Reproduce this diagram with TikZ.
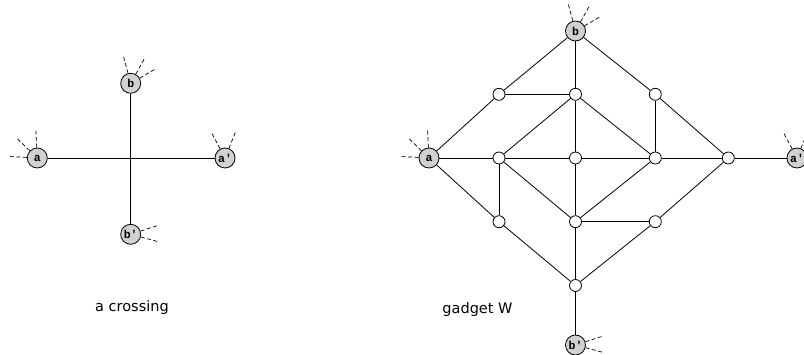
\documentclass[tikz,border=0pt]{standalone}
\usepackage{fontspec}
\newfontfamily\capfont{DejaVu Sans}
\newfontfamily\labfont{Liberation Mono}
\begin{document}
\begin{tikzpicture}[x=1pt,y=-1pt,
  term/.style={circle,draw,line width=0.8pt,fill=black!18,minimum size=20pt,inner sep=0pt,font=\labfont\bfseries\fontsize{11.5}{11.5}\selectfont},
  inner/.style={circle,draw,line width=0.8pt,fill=white,minimum size=12pt,inner sep=0pt},
  edge/.style={line width=0.8pt},
  stub/.style={line width=0.7pt,dash pattern=on 4pt off 2.5pt},
  captxt/.style={font=\capfont\fontsize{14.5}{16}\selectfont,inner sep=0pt}]
\useasboundingbox (0,0) rectangle (804,355);
% ---------- crossing ----------
\node[term] (cb) at (130.7,83.3) {b};
\node[term] (ca) at (37.3,158) {a};
\node[term] (cap) at (225,158) {a'};
\node[term] (cbp) at (130.7,234.3) {b'};
\draw[edge] (ca) -- (cap);
\draw[edge] (cb) -- (cbp);
\node[captxt] (lc) at (132,307.7) {a crossing};
% ---------- gadget ----------
\node[term] (gb) at (575.5,31) {b};
\node[term] (ga) at (429,158) {a};
\node[term] (gap) at (797,158) {a'};
\node[term] (gbp) at (575.5,345) {b'};
\node[inner] (tl) at (499,94.3) {};
\node[inner] (tm) at (575.5,94.3) {};
\node[inner] (tr) at (655.3,94.3) {};
\node[inner] (ml) at (499,158) {};
\node[inner] (mm) at (575.5,158) {};
\node[inner] (mr) at (655.3,158) {};
\node[inner] (me) at (728.3,158) {};
\node[inner] (bl) at (499,221.7) {};
\node[inner] (bm) at (575.5,221.7) {};
\node[inner] (br) at (655.3,221.7) {};
\node[inner] (bo) at (575.5,285.5) {};
\draw[edge] (gb) -- (tl);
\draw[edge] (gb) -- (tm);
\draw[edge] (gb) -- (tr);
\draw[edge] (tl) -- (tm);
\draw[edge] (tl) -- (ga);
\draw[edge] (tm) -- (ml);
\draw[edge] (tm) -- (mm);
\draw[edge] (tm) -- (mr);
\draw[edge] (tr) -- (mr);
\draw[edge] (tr) -- (me);
\draw[edge] (ga) -- (ml);
\draw[edge] (ml) -- (mm);
\draw[edge] (mm) -- (mr);
\draw[edge] (mr) -- (me);
\draw[edge] (me) -- (gap);
\draw[edge] (ga) -- (bl);
\draw[edge] (ml) -- (bl);
\draw[edge] (ml) -- (bm);
\draw[edge] (mm) -- (bm);
\draw[edge] (mr) -- (bm);
\draw[edge] (me) -- (br);
\draw[edge] (bm) -- (br);
\draw[edge] (bl) -- (bo);
\draw[edge] (bm) -- (bo);
\draw[edge] (br) -- (bo);
\draw[edge] (bo) -- (gbp);
\node[captxt] (lg) at (477.5,310) {gadget W};
% ---------- dangling stubs ----------
\foreach \n in {cb,gb}{
  \foreach \ang in {105,61,30}{\draw[stub] (\n.\ang) -- ++(-\ang:19);}}
\foreach \n in {ca,ga}{
  \foreach \ang in {93,136,177}{\draw[stub] (\n.\ang) -- ++(-\ang:19);}}
\foreach \n in {cap,gap}{
  \foreach \ang in {118,68}{\draw[stub] (\n.\ang) -- ++(-\ang:19);}}
\foreach \n in {cbp,gbp}{
  \foreach \ang in {18,-15}{\draw[stub] (\n.\ang) -- ++(-\ang:19);}}
\end{tikzpicture}
\end{document}
